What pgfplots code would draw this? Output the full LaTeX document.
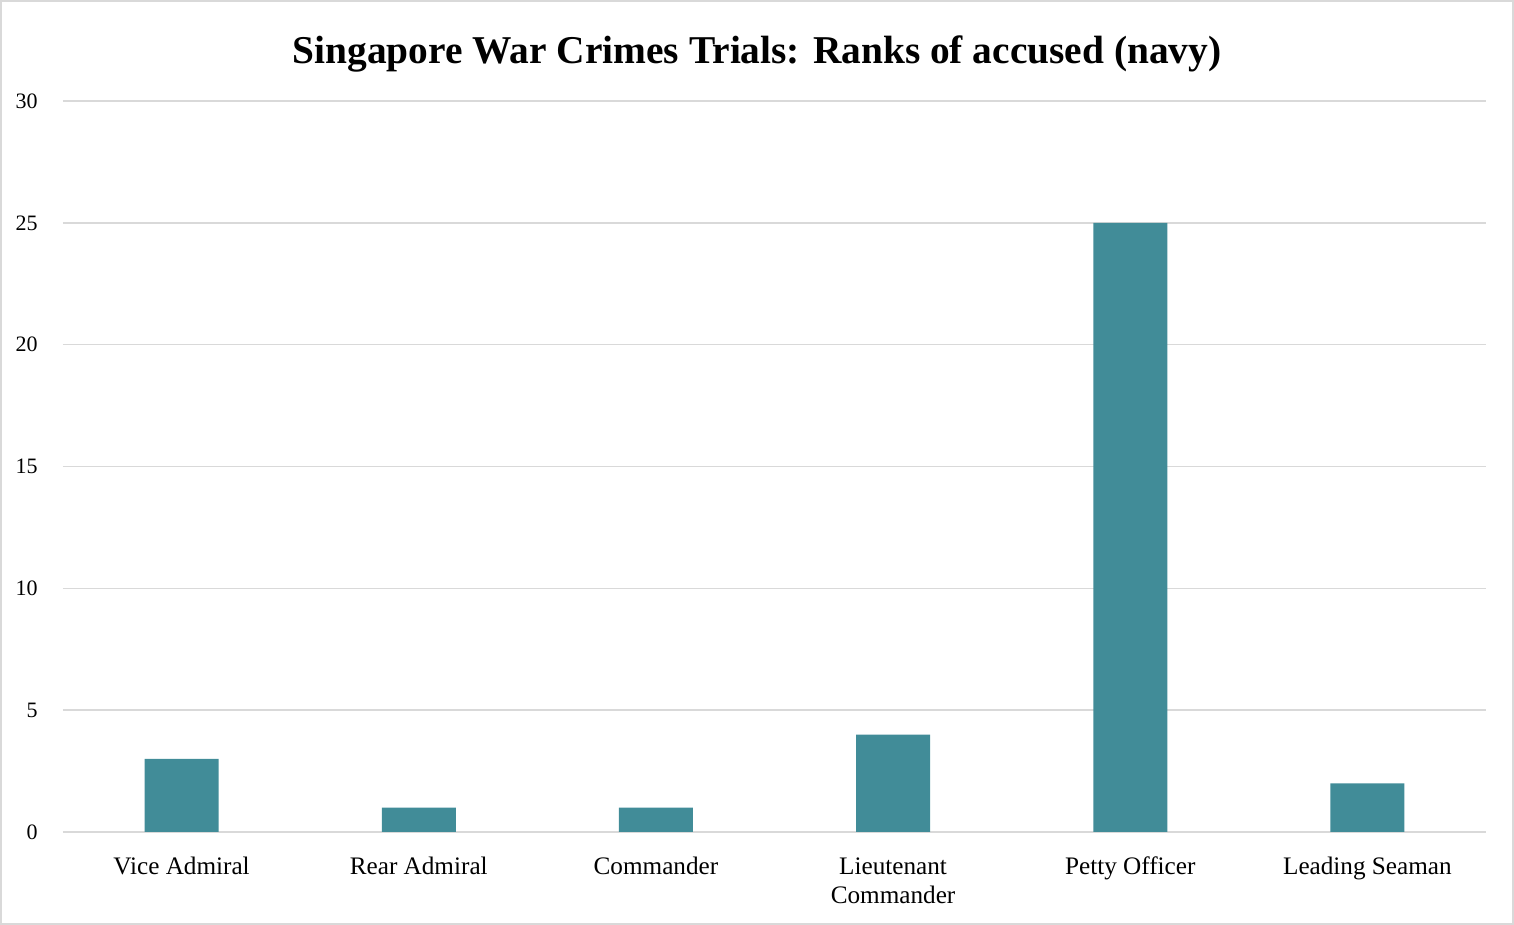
\documentclass[border=0pt]{standalone}
\usepackage{pgfplots}
\pgfplotsset{compat=1.18}
\usepackage{fontspec}
\setmainfont{Liberation Serif}
\definecolor{barc}{HTML}{418C98}
\definecolor{gridc}{HTML}{D9D9D9}
\begin{document}
\begin{tikzpicture}
\draw[gridc, line width=1pt] (0.5pt,0.5pt) rectangle (756.5pt,462pt);
\path[use as bounding box] (0,0) rectangle (757pt,462.5pt);
\begin{axis}[
  at={(31.5pt,46.5pt)}, anchor=south west,
  scale only axis, width=711.5pt, height=365.5pt,
  xmin=-0.5, xmax=5.5, ymin=0, ymax=30,
  ytick={0,5,...,30},
  xtick={0,...,5},
  xticklabels={Vice Admiral, Rear Admiral, Commander, {\begin{tabular}[t]{@{}c@{}}Lieutenant\\Commander\end{tabular}}, Petty Officer, Leading Seaman},
  axis line style={draw=none},
  major tick length=0pt,
  ymajorgrids, grid style={gridc, line width=0.8pt},
  /pgf/number format/assume math mode=true,
  yticklabel style={font=\fontsize{11}{12}\selectfont, anchor=east, inner sep=0pt, xshift=-12.5pt},
  xticklabel style={font=\fontsize{12.6}{14.5}\selectfont, anchor=base, inner sep=0pt, yshift=-21.5pt},
  title={\textbf{Singapore War Crimes Trials: Ranks of accused (navy)}},
  title style={font=\fontsize{19.7}{22}\selectfont, anchor=center, at={(0.5,1)}, yshift=17.5pt, xshift=-8.75pt},
]
\addplot[ybar, bar width=37pt, fill=barc, draw=none] coordinates {(0,3) (1,1) (2,1) (3,4) (4,25) (5,2)};
\end{axis}
\end{tikzpicture}
\end{document}
